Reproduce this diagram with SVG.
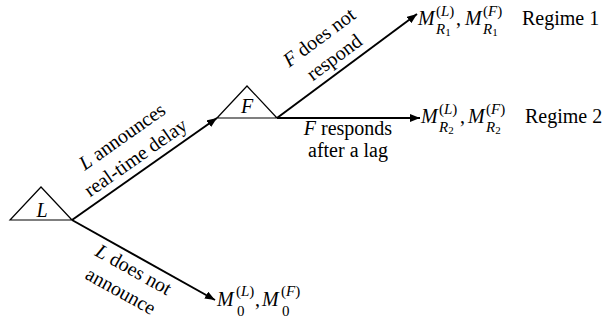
<svg xmlns="http://www.w3.org/2000/svg" width="603" height="321" viewBox="0 0 603 321" font-family="'Liberation Serif', 'Times New Roman', serif">
<style>
text, tspan{font-family:'Liberation Serif','Times New Roman',serif}
text{font-size:20px;fill:#000}
.i{font-style:italic}
.sup{font-size:15px}
.sub{font-size:15px}
.sub2{font-size:11px}
.tri{fill:none;stroke:#000;stroke-width:1.2}
.edge{fill:none;stroke:#000;stroke-width:2}
</style>
<defs>
<marker id="ah" viewBox="0 0 10 8" refX="10" refY="4" markerWidth="10" markerHeight="8" markerUnits="userSpaceOnUse" orient="auto">
<path d="M0,0 L10,4 L0,8 Z" fill="#000"/>
</marker>
</defs>
<rect width="603" height="321" fill="#fff"/>
<g id="connectors">
<line class="edge" x1="72" y1="220" x2="217" y2="118" marker-end="url(#ah)"/>
<line class="edge" x1="277" y1="118" x2="417" y2="14" marker-end="url(#ah)"/>
<line class="edge" x1="277" y1="118" x2="420" y2="118" marker-end="url(#ah)"/>
<line class="edge" x1="72" y1="220" x2="215" y2="300" marker-end="url(#ah)"/>
<g transform="translate(72,220) rotate(-35.1)">
<text x="89" y="-33" text-anchor="middle"><tspan class="i">L</tspan> announces</text>
<text x="88" y="-8" text-anchor="middle">real-time delay</text>
</g>
<g transform="translate(277,118) rotate(-36.6)">
<text x="82" y="-33" text-anchor="middle"><tspan class="i">F</tspan> does not</text>
<text x="82" y="-8" text-anchor="middle">respond</text>
</g>
<text x="348" y="135" text-anchor="middle"><tspan class="i">F</tspan> responds</text>
<text x="348" y="157" text-anchor="middle">after a lag</text>
<g transform="translate(72,220) rotate(29.05)">
<text x="78" y="20" text-anchor="middle"><tspan class="i">L</tspan> does not</text>
<text x="77" y="45" text-anchor="middle">announce</text>
</g>
</g>
<g id="nodeL">
<polygon class="tri" points="10,220 41,187 72,220"/>
<text x="42" y="217" text-anchor="middle" class="i">L</text>
</g>
<g id="nodeF">
<polygon class="tri" points="217,118 247,86 277,118"/>
<text x="247" y="113" text-anchor="middle" class="i">F</text>
</g>
<g id="outcome1">
<text x="418" y="25" class="i">M</text>
<text x="436" y="16" class="sup">(<tspan class="i">L</tspan>)</text>
<text x="436" y="34" class="sub i">R<tspan class="sub2" font-style="normal" dy="2">1</tspan></text>
<text x="456" y="25">,</text>
<text x="465" y="25" class="i">M</text>
<text x="483" y="16" class="sup">(<tspan class="i">F</tspan>)</text>
<text x="483" y="34" class="sub i">R<tspan class="sub2" font-style="normal" dy="2">1</tspan></text>
<text x="522" y="25">Regime 1</text>
</g>
<g id="outcome2">
<text x="421" y="123" class="i">M</text>
<text x="439" y="114" class="sup">(<tspan class="i">L</tspan>)</text>
<text x="439" y="132" class="sub i">R<tspan class="sub2" font-style="normal" dy="2">2</tspan></text>
<text x="460" y="123">,</text>
<text x="468" y="123" class="i">M</text>
<text x="486" y="114" class="sup">(<tspan class="i">F</tspan>)</text>
<text x="486" y="132" class="sub i">R<tspan class="sub2" font-style="normal" dy="2">2</tspan></text>
<text x="525" y="123">Regime 2</text>
</g>
<g id="outcome0">
<text x="217" y="306" class="i">M</text>
<text x="236" y="296" class="sup">(<tspan class="i">L</tspan>)</text>
<text x="237" y="316" class="sub">0</text>
<text x="255" y="306">,</text>
<text x="262" y="306" class="i">M</text>
<text x="281" y="296" class="sup">(<tspan class="i">F</tspan>)</text>
<text x="282" y="316" class="sub">0</text>
</g>
</svg>
